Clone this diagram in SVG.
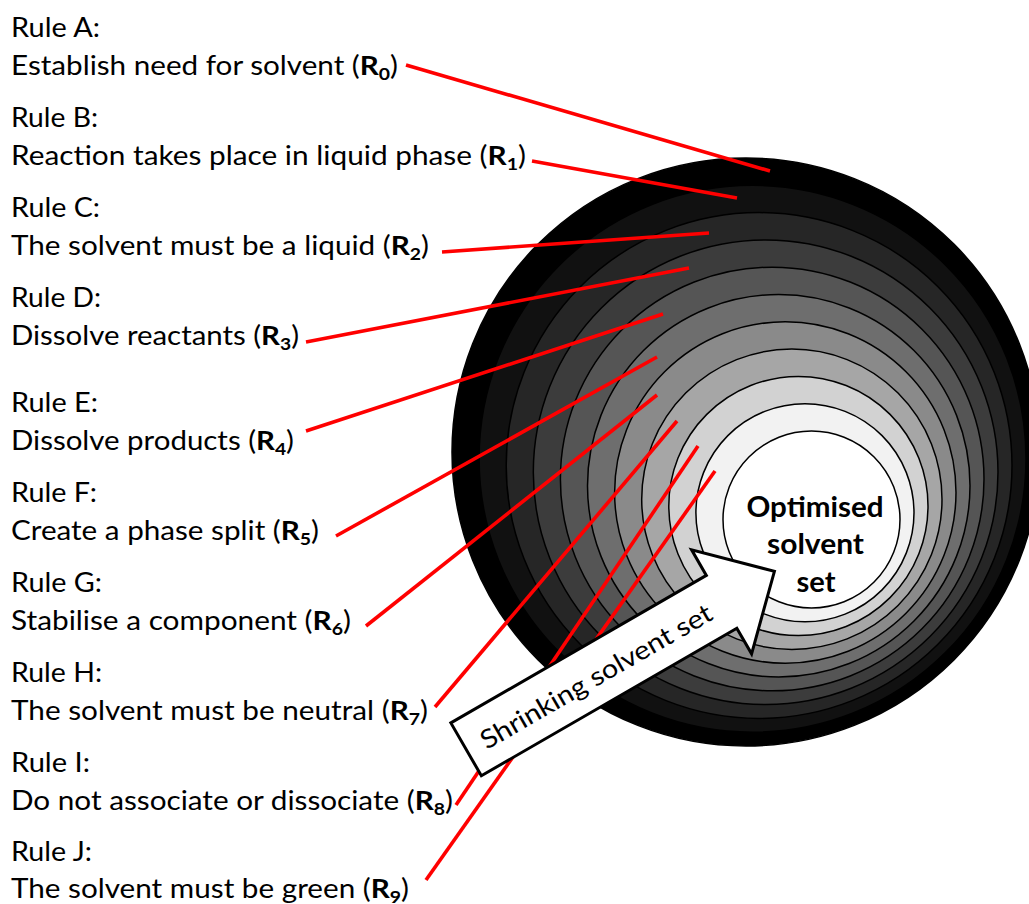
<svg xmlns="http://www.w3.org/2000/svg" width="1029" height="904" viewBox="0 0 1029 904">
<style>
.lbl{font-family:Lato,"Liberation Sans",sans-serif;font-size:26px;fill:#000}
.b{font-weight:bold}
.sub{font-weight:bold;font-size:17px}
.ring{stroke:#000;stroke-width:1.5}
.con{stroke:#ff0000;stroke-width:3.6;fill:none}
.ctr{font-family:Lato,"Liberation Sans",sans-serif;font-size:28px;font-weight:bold;fill:#000}
</style>
<rect width="1029" height="904" fill="#fff"/>
<g id="rings">
<circle class="ring" cx="746" cy="452" r="294" fill="#000000"/>
<circle class="ring" cx="752.55" cy="458.75" r="273.45" fill="#111111"/>
<circle class="ring" cx="759.1" cy="465.5" r="252.9" fill="#262626"/>
<circle class="ring" cx="765.65" cy="472.25" r="232.35" fill="#3c3c3c"/>
<circle class="ring" cx="772.2" cy="479" r="211.8" fill="#555555"/>
<circle class="ring" cx="778.75" cy="485.75" r="191.25" fill="#6e6e6e"/>
<circle class="ring" cx="785.3" cy="492.5" r="170.7" fill="#8a8a8a"/>
<circle class="ring" cx="791.85" cy="499.25" r="150.15" fill="#a6a6a6"/>
<circle class="ring" cx="798.4" cy="506" r="129.6" fill="#d2d2d2"/>
<circle class="ring" cx="804.95" cy="512.75" r="109.05" fill="#f2f2f2"/>
<circle class="ring" cx="811.5" cy="519.5" r="88.5" fill="#ffffff"/>
</g>
<g id="connectors">
<line class="con" x1="406" y1="65" x2="770" y2="171"/>
<line class="con" x1="532" y1="161" x2="737" y2="198"/>
<line class="con" x1="442" y1="252" x2="709" y2="233"/>
<line class="con" x1="306" y1="342" x2="689" y2="268"/>
<line class="con" x1="306" y1="431" x2="663" y2="314"/>
<line class="con" x1="336" y1="536" x2="657" y2="357"/>
<line class="con" x1="366" y1="626" x2="657" y2="395"/>
<line class="con" x1="435" y1="707" x2="677" y2="421"/>
<line class="con" x1="456" y1="805" x2="698" y2="446"/>
<line class="con" x1="426" y1="880" x2="715" y2="471"/>
</g>
<g id="arrow" transform="rotate(-30)">
<polygon points="29,851.5 324,851.5 324,822 385,882 324,942 324,912.5 29,912.5" fill="#fff" stroke="#000" stroke-width="3" stroke-linejoin="miter"/>
<text class="lbl" x="46.5" y="893" textLength="263" lengthAdjust="spacingAndGlyphs">Shrinking solvent set</text>
</g>
<g id="center">
<text class="ctr" x="746.5" y="516.5" textLength="137" lengthAdjust="spacingAndGlyphs">Optimised</text>
<text class="ctr" x="767" y="553.5" textLength="97" lengthAdjust="spacingAndGlyphs">solvent</text>
<text class="ctr" x="796.5" y="591.5" textLength="39" lengthAdjust="spacingAndGlyphs">set</text>
</g>
<g id="ruleA">
<text class="lbl" x="11" y="36.7" textLength="89" lengthAdjust="spacingAndGlyphs">Rule A:</text>
<text class="lbl" x="11" y="75" textLength="387" lengthAdjust="spacingAndGlyphs">Establish need for solvent (<tspan class="b">R</tspan><tspan class="sub" dy="5">0</tspan><tspan dy="-5">)</tspan></text>
</g>
<g id="ruleB">
<text class="lbl" x="11" y="126.7" textLength="87" lengthAdjust="spacingAndGlyphs">Rule B:</text>
<text class="lbl" x="11" y="165" textLength="515" lengthAdjust="spacingAndGlyphs">Reaction takes place in liquid phase (<tspan class="b">R</tspan><tspan class="sub" dy="5">1</tspan><tspan dy="-5">)</tspan></text>
</g>
<g id="ruleC">
<text class="lbl" x="11" y="216.7" textLength="89" lengthAdjust="spacingAndGlyphs">Rule C:</text>
<text class="lbl" x="11" y="255" textLength="418" lengthAdjust="spacingAndGlyphs">The solvent must be a liquid (<tspan class="b">R</tspan><tspan class="sub" dy="5">2</tspan><tspan dy="-5">)</tspan></text>
</g>
<g id="ruleD">
<text class="lbl" x="11" y="306.7" textLength="90" lengthAdjust="spacingAndGlyphs">Rule D:</text>
<text class="lbl" x="11" y="345" textLength="288" lengthAdjust="spacingAndGlyphs">Dissolve reactants (<tspan class="b">R</tspan><tspan class="sub" dy="5">3</tspan><tspan dy="-5">)</tspan></text>
</g>
<g id="ruleE">
<text class="lbl" x="11" y="411.7" textLength="87" lengthAdjust="spacingAndGlyphs">Rule E:</text>
<text class="lbl" x="11" y="450" textLength="283" lengthAdjust="spacingAndGlyphs">Dissolve products (<tspan class="b">R</tspan><tspan class="sub" dy="5">4</tspan><tspan dy="-5">)</tspan></text>
</g>
<g id="ruleF">
<text class="lbl" x="11" y="501.7" textLength="86" lengthAdjust="spacingAndGlyphs">Rule F:</text>
<text class="lbl" x="11" y="539.5" textLength="308" lengthAdjust="spacingAndGlyphs">Create a phase split (<tspan class="b">R</tspan><tspan class="sub" dy="5">5</tspan><tspan dy="-5">)</tspan></text>
</g>
<g id="ruleG">
<text class="lbl" x="11" y="591.7" textLength="91" lengthAdjust="spacingAndGlyphs">Rule G:</text>
<text class="lbl" x="11" y="630" textLength="340" lengthAdjust="spacingAndGlyphs">Stabilise a component (<tspan class="b">R</tspan><tspan class="sub" dy="5">6</tspan><tspan dy="-5">)</tspan></text>
</g>
<g id="ruleH">
<text class="lbl" x="11" y="681.7" textLength="91" lengthAdjust="spacingAndGlyphs">Rule H:</text>
<text class="lbl" x="11" y="720" textLength="417" lengthAdjust="spacingAndGlyphs">The solvent must be neutral (<tspan class="b">R</tspan><tspan class="sub" dy="5">7</tspan><tspan dy="-5">)</tspan></text>
</g>
<g id="ruleI">
<text class="lbl" x="11" y="771.7" textLength="79" lengthAdjust="spacingAndGlyphs">Rule I:</text>
<text class="lbl" x="11" y="810" textLength="442" lengthAdjust="spacingAndGlyphs">Do not associate or dissociate (<tspan class="b">R</tspan><tspan class="sub" dy="5">8</tspan><tspan dy="-5">)</tspan></text>
</g>
<g id="ruleJ">
<text class="lbl" x="11" y="861" textLength="81" lengthAdjust="spacingAndGlyphs">Rule J:</text>
<text class="lbl" x="11" y="898" textLength="398" lengthAdjust="spacingAndGlyphs">The solvent must be green (<tspan class="b">R</tspan><tspan class="sub" dy="5">9</tspan><tspan dy="-5">)</tspan></text>
</g>
</svg>
